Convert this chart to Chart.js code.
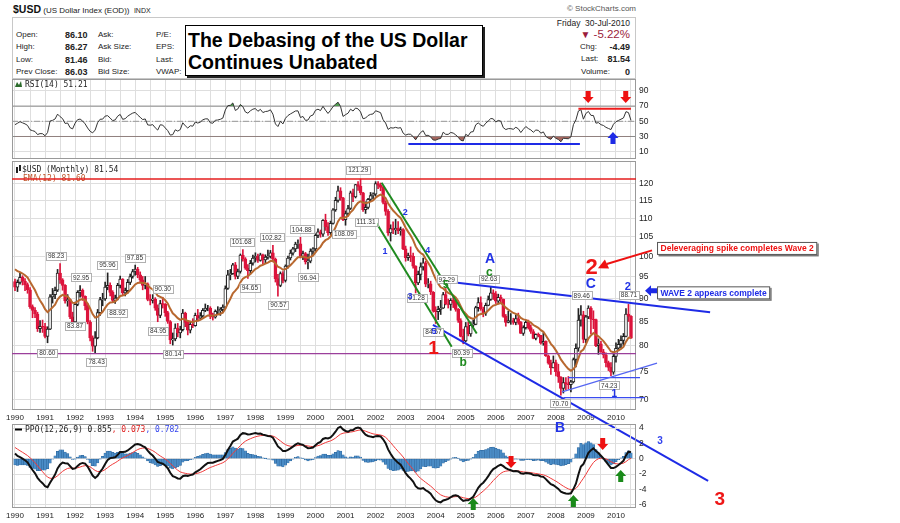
<!DOCTYPE html>
<html><head><meta charset="utf-8">
<script src="https://cdn.jsdelivr.net/npm/chart.js@4.4.1/dist/chart.umd.min.js"></script>
<style>
html,body{margin:0;padding:0;background:#fff;}
#wrap{position:relative;width:900px;height:523px;overflow:hidden;font-family:Arial,"Liberation Sans",sans-serif;color:#222;}
canvas{position:absolute;left:0;top:0;}
.t{position:absolute;white-space:nowrap;}
</style></head><body>
<div id="wrap">
<div class="t" style="left:13px;top:3px;font-size:8px;line-height:12px;"><b style="font-size:10.5px;color:#111">$USD</b> (US Dollar Index (EOD))&nbsp; <span style="font-size:7px">INDX</span></div>
<div class="t" style="right:264px;top:3px;font-size:8px;line-height:12px;color:#555">© StockCharts.com</div>
<div style="position:absolute;left:12px;top:17px;width:624px;height:62px;border:1px solid #c8c8c8;box-sizing:border-box"></div>
<div class="t" style="left:16px;top:29px;font-size:8px;line-height:12px">Open:</div>
<div class="t" style="left:16px;top:41.3px;font-size:8px;line-height:12px">High:</div>
<div class="t" style="left:16px;top:53.6px;font-size:8px;line-height:12px">Low:</div>
<div class="t" style="left:16px;top:65.9px;font-size:8px;line-height:12px">Prev Close:</div>
<div class="t" style="left:65px;top:29px;font-size:9px;line-height:12px;font-weight:bold">86.10</div>
<div class="t" style="left:65px;top:41.3px;font-size:9px;line-height:12px;font-weight:bold">86.27</div>
<div class="t" style="left:65px;top:53.6px;font-size:9px;line-height:12px;font-weight:bold">81.46</div>
<div class="t" style="left:65px;top:65.9px;font-size:9px;line-height:12px;font-weight:bold">86.03</div>
<div class="t" style="left:98px;top:29px;font-size:8px;line-height:12px">Ask:</div>
<div class="t" style="left:98px;top:41.3px;font-size:8px;line-height:12px">Ask Size:</div>
<div class="t" style="left:98px;top:53.6px;font-size:8px;line-height:12px">Bid:</div>
<div class="t" style="left:98px;top:65.9px;font-size:8px;line-height:12px">Bid Size:</div>
<div class="t" style="left:156px;top:29px;font-size:8px;line-height:12px">P/E:</div>
<div class="t" style="left:156px;top:41.3px;font-size:8px;line-height:12px">EPS:</div>
<div class="t" style="left:156px;top:53.6px;font-size:8px;line-height:12px">Last:</div>
<div class="t" style="left:156px;top:65.9px;font-size:8px;line-height:12px">VWAP:</div>
<div style="position:absolute;left:185px;top:25px;width:298px;height:51px;border:1px solid #000;box-shadow:2px 2px 0 #222;background:#fff;box-sizing:border-box"></div>
<div class="t" style="left:188px;top:28.9px;font-size:19.5px;line-height:22px;font-weight:bold;color:#000">The Debasing of the US Dollar</div>
<div class="t" style="left:188px;top:50.5px;font-size:19.5px;line-height:22px;font-weight:bold;color:#000">Continues Unabated</div>
<div class="t" style="right:270px;top:16.7px;font-size:8.5px;line-height:12px">Friday&nbsp; 30-Jul-2010</div>
<div class="t" style="right:270px;top:27.3px;font-size:11.5px;line-height:14px;color:#9b1c3c"><span style="font-size:10px">▼</span> -5.22%</div>
<div class="t" style="left:580px;top:41px;font-size:8px;line-height:12px">Chg:</div>
<div class="t" style="right:270px;top:41px;font-size:9px;line-height:12px;font-weight:bold">-4.49</div>
<div class="t" style="left:581px;top:53.3px;font-size:8px;line-height:12px">Last:</div>
<div class="t" style="right:270px;top:53.3px;font-size:9px;line-height:12px;font-weight:bold">81.54</div>
<div class="t" style="left:581px;top:65.7px;font-size:8px;line-height:12px">Volume:</div>
<div class="t" style="right:270px;top:65.7px;font-size:9px;line-height:12px;font-weight:bold">0</div>
<canvas id="cRsi" width="900" height="523"></canvas>
<canvas id="cPrice" width="900" height="523"></canvas>
<canvas id="cPpo" width="900" height="523"></canvas>
</div>
<script>
// ---------------- DATA (monthly, Jan 1990 .. Jul 2010) ----------------
const yearLabels = ['1990','1991','1992','1993','1994','1995','1996','1997','1998','1999','2000','2001','2002','2003','2004','2005','2006','2007','2008','2009','2010'];
// closes of 1988-1989, used only to warm up the indicators
const priorCloses = [91.9,92.8,90.8,90.6,92.3,96.6,99.7,100.4,99.1,94.7,91.1,92.5,
                     95.5,94.8,98.1,98.6,104.6,102.0,98.5,102.6,99.8,97.8,96.4,93.9];
const closes = [
 92.6,93.7,94.9,94.0,93.2,92.0,88.2,87.4,86.6,83.5,84.0,83.9,
 81.9,83.4,90.4,90.9,91.9,95.9,94.3,93.0,89.5,89.8,86.0,84.9,
 88.7,91.4,91.9,90.5,88.4,84.9,81.6,79.9,81.6,86.9,89.8,89.9,
 92.6,93.0,91.4,89.6,90.1,93.0,94.5,91.3,91.8,93.7,95.1,96.3,
 96.9,95.5,94.3,93.0,93.4,89.8,89.6,89.9,87.9,86.3,88.9,88.7,
 86.9,85.0,81.2,81.4,83.6,82.6,83.3,86.8,84.8,83.2,84.4,84.1,
 86.3,85.7,86.2,87.4,87.9,87.9,86.1,85.9,87.2,87.3,87.6,88.1,
 92.3,95.5,95.8,97.9,95.1,96.3,100.3,99.4,97.1,96.5,98.3,99.6,
 100.1,99.0,100.4,99.1,99.8,100.0,100.9,99.3,94.6,93.0,95.8,94.2,
 97.6,99.6,100.8,101.9,103.1,103.2,100.0,100.7,98.6,98.8,101.3,101.9,
 105.4,106.3,105.7,109.4,107.7,106.1,108.6,112.3,115.0,117.8,115.7,109.6,
 111.3,112.7,117.2,116.0,119.6,119.1,117.2,112.4,113.0,115.3,116.4,116.8,
 119.9,119.4,118.8,114.4,111.9,106.0,107.2,106.8,107.3,106.6,106.9,101.9,
 99.7,100.2,100.0,97.6,93.6,95.6,97.4,98.4,93.3,93.4,91.5,87.3,
 87.1,87.6,87.9,90.9,88.8,88.7,89.6,89.1,87.6,85.2,81.9,81.0,
 83.9,82.4,84.2,84.4,88.0,89.1,87.7,86.8,88.5,89.8,91.3,91.1,
 89.4,90.3,89.9,86.1,84.8,85.2,85.2,84.8,85.6,84.8,82.5,83.7,
 84.8,83.7,82.9,81.5,82.3,82.1,80.5,80.9,78.0,76.6,75.7,76.7,
 75.0,74.0,71.9,73.0,72.7,72.6,73.1,77.3,79.5,85.3,86.4,81.3,
 86.0,87.9,85.5,85.4,80.0,80.4,78.8,78.2,76.7,75.8,74.9,77.9,
 79.5,80.3,81.1,81.9,86.6,86.1,81.54];
const highs = [
 94.5,94.3,95.9,95.3,94.6,93.6,92.5,88.6,88.0,87.0,85.2,85.3,
 84.6,83.9,90.9,92.3,92.6,96.8,98.23,94.6,93.2,90.9,89.9,87.0,
 89.2,91.8,92.95,92.2,90.6,88.9,85.2,82.0,82.9,87.6,90.3,91.2,
 93.8,95.96,93.6,91.8,90.8,93.5,95.2,94.6,92.4,94.4,95.7,96.8,
 97.85,97.3,96.2,95.1,95.1,93.6,90.9,90.9,90.2,88.6,89.6,90.30,
 88.9,87.2,85.2,82.6,84.5,84.6,84.0,87.6,87.0,85.2,85.0,85.6,
 86.8,87.6,86.9,87.8,88.8,88.5,88.2,86.8,87.5,88.2,88.0,88.6,
 92.9,96.6,96.8,98.3,98.5,96.9,100.6,101.68,99.7,98.0,99.0,100.3,
 100.9,100.6,100.8,100.6,100.4,101.6,101.5,102.82,99.6,95.6,96.2,96.3,
 97.9,100.1,101.6,102.3,103.6,104.2,104.88,101.3,101.0,100.6,101.9,102.2,
 105.8,107.1,106.8,109.6,111.1,108.8,109.2,112.7,115.9,119.2,118.7,115.9,
 112.0,113.6,117.7,118.3,119.7,120.5,121.29,117.3,114.6,115.6,117.3,117.2,
 120.5,120.5,120.1,119.1,114.9,112.4,108.2,109.0,109.7,109.1,107.6,107.2,
 102.6,100.8,102.4,100.8,97.7,96.4,98.4,99.6,98.8,94.6,94.0,91.6,
 88.2,88.3,89.6,91.4,92.29,89.9,90.0,90.5,89.6,87.8,85.6,83.4,
 84.8,84.9,84.9,85.3,88.3,90.2,90.4,88.1,89.0,90.6,92.63,92.0,
 91.6,91.0,90.8,89.9,86.5,87.2,86.7,85.7,86.4,86.8,85.0,84.1,
 85.2,85.3,84.3,83.3,82.4,82.6,82.1,82.6,81.0,78.2,77.2,78.0,
 77.2,76.4,74.1,73.9,73.9,74.1,73.4,77.6,80.4,87.8,88.46,87.2,
 86.3,88.4,88.2,87.3,85.5,81.4,80.9,79.3,78.6,77.0,76.7,78.3,
 80.6,81.3,82.0,82.5,87.8,88.71,86.27];
const lows = [
 91.8,91.6,93.3,93.1,91.8,91.2,87.8,85.8,85.8,82.9,82.7,82.7,
 81.6,80.60,83.3,89.0,90.0,91.6,93.5,91.9,89.0,88.3,85.6,84.4,
 83.87,88.4,90.3,89.6,87.5,84.5,81.0,78.9,78.43,81.4,86.3,88.4,
 89.6,92.0,90.6,89.2,88.92,89.7,92.4,90.9,90.6,91.2,93.2,94.7,
 95.4,94.8,93.6,92.0,92.2,89.5,88.6,89.0,87.4,84.95,85.8,87.9,
 86.1,84.6,80.4,80.14,81.0,81.8,81.6,83.0,83.9,82.2,82.6,83.7,
 84.0,85.1,85.5,85.9,87.1,87.3,85.6,85.3,85.7,86.5,86.3,86.9,
 87.8,92.1,94.3,95.6,94.5,94.6,95.9,98.8,96.8,94.65,95.7,97.8,
 98.6,98.5,98.8,98.1,98.4,99.3,99.6,98.6,93.8,90.57,92.7,93.6,
 93.8,97.1,99.1,100.3,101.2,102.0,99.6,99.2,98.1,96.94,98.4,100.5,
 101.1,104.8,104.9,105.1,106.7,105.4,105.6,108.4,111.9,114.5,115.0,109.3,
 108.09,110.6,112.4,114.6,115.7,117.9,116.6,111.9,111.31,112.6,114.8,115.4,
 116.2,118.4,117.8,114.0,110.8,105.4,103.9,105.8,105.6,105.8,105.4,101.7,
 98.8,99.0,98.7,97.1,91.28,93.2,94.3,96.6,92.7,92.4,90.9,87.0,
 84.57,85.4,86.5,87.8,88.6,87.9,87.4,88.0,87.2,84.8,81.8,80.39,
 80.8,82.0,81.9,83.8,84.3,87.2,87.4,86.0,86.3,88.4,89.6,89.8,
 88.9,88.8,89.1,85.9,84.0,84.7,84.4,84.4,84.3,84.4,82.5,82.1,
 83.4,83.4,82.5,81.4,81.2,81.8,80.3,80.1,77.9,76.4,74.5,75.7,
 74.2,73.0,70.70,71.1,71.7,71.8,71.3,72.9,75.9,78.9,84.0,80.6,
 80.6,85.6,82.4,83.5,79.8,78.3,78.7,77.6,75.9,75.2,74.23,74.5,
 76.8,79.0,79.6,80.0,81.8,85.0,81.46];
const firstOpen = 93.9;
const opens = closes.map((c, i) => i === 0 ? firstOpen : closes[i - 1]);
const priceTicks = [70,75,80,85,90,95,100,105,110,115,120];
const rsiTicks = [10,30,50,70,90];
const ppoTicks = [-6,-4,-2,0,2,4];

// annotations in data coordinates: [text, month index, value]
const priceLabels = [
 ['98.23',16.4,100.1],['92.95',26.4,94.9],['83.87',24.0,84.05],['80.60',12.9,78.6],['78.43',32.6,76.9],
 ['95.96',36.9,97.9],['88.92',40.9,86.8],['97.85',47.9,99.7],['90.30',59.0,92.2],['84.95',57.2,83.1],
 ['80.14',63.2,78.4],['101.68',90.5,103.7],['94.65',93.8,92.5],['102.82',102.5,104.9],['90.57',105.2,88.6],
 ['104.88',114.5,107.0],['96.94',117.1,94.9],['108.09',131.4,105.7],['121.29',137.1,124.1],['111.31',140.2,109.0],
 ['91.28',160.4,90.1],['84.57',167.1,82.9],['92.29',172.4,94.4],['80.39',178.4,78.6],['92.63',189.3,94.6],
 ['89.46',226.3,90.7],['74.23',237.3,72.5],['70.70',217.7,69.3],['88.71',245.2,90.8]];
const waveLabels = [
 ['1',147.8,101.2,'#2233e6',9],['2',155.8,111.5,'#2233e6',9],['3',157.7,90.4,'#2233e6',9],['4',164.8,101.4,'#2233e6',9],
 ['5',167.3,82.9,'#2233e6',9],['5',172.0,93.1,'#1f8a1f',10],['A',189.7,99.3,'#2233e6',14],['c',189.4,95.9,'#1f8a1f',12],
 ['b',179.0,76.6,'#1f8a1f',12],['1',167.1,79.5,'#ee1616',19],['C',230.0,93.3,'#2233e6',14],['2',230.3,97.1,'#ee1616',22],
 ['2',244.7,92.6,'#2233e6',11],['1',239.3,70.9,'#2233e6',10]];
const priceLines = [ // m1, v1, m2, v2, color, width
 [146.4,120.2,184.4,82.5,'#1f8a1f',2],[144.4,108.6,174.4,79.8,'#1f8a1f',2],
 [174.1,93.8,277.6,87.0,'#1e2be6',2],[166.9,84.3,276.8,57.1,'#1e2be6',2],
 [221.0,73.9,249.6,73.9,'#3a4cf0',1.2],[219.0,70.3,251.6,70.3,'#3a4cf0',1.2],
 [218.5,71.3,256.4,76.6,'#5566f2',1.2]];
const priceLevels = [[121.29,'#e51c1c',1.6],[78.43,'#9b3f9b',1.3]];

// ---------------- indicators ----------------
const allCloses = priorCloses.concat(closes);
const W0 = priorCloses.length;
function ema(arr, n){const k=2/(n+1);const out=[];let e=arr[0];for(let i=0;i<arr.length;i++){e=i===0?arr[0]:arr[i]*k+e*(1-k);out.push(e);}return out;}
function rsiCalc(arr, n){const out=new Array(arr.length).fill(null);let g=0,l=0;
 for(let i=1;i<=n;i++){const d=arr[i]-arr[i-1];if(d>0)g+=d;else l-=d;}g/=n;l/=n;out[n]=100-100/(1+g/l);
 for(let i=n+1;i<arr.length;i++){const d=arr[i]-arr[i-1];g=(g*(n-1)+Math.max(d,0))/n;l=(l*(n-1)+Math.max(-d,0))/n;out[i]=l===0?100:100-100/(1+g/l);}return out;}
const ema12All = ema(allCloses,12), ema26All = ema(allCloses,26);
const ppoAll = ema12All.map((v,i)=> (v-ema26All[i])/ema26All[i]*100);
const sigAll = ema(ppoAll,9);
const rsiAll = rsiCalc(allCloses,14);
const ema12 = ema12All.slice(W0), ppo = ppoAll.slice(W0), sig = sigAll.slice(W0), rsi = rsiAll.slice(W0);
const hist = ppo.map((v,i)=>v-sig[i]);

// ---------------- layout helpers ----------------
const X_MIN = -1.198, X_MAX = 248.0;
const GRID = '#dedede';
function xAxis(showLabels, h){
 return {type:'linear', min:X_MIN, max:X_MAX, offset:false,
  afterBuildTicks:s=>{const t=[];for(let v=0;v<closes.length;v+=6)t.push({value:v});s.ticks=t;},
  afterFit:s=>{s.height=h;},
  grid:{color:GRID, drawTicks:false, offset:false}, border:{display:false},
  ticks:{display:showLabels, autoSkip:false, maxRotation:0, minRotation:0, padding:3,
   font:{family:'Arial', size:8}, color:'#222',
   callback:v=> (v%12===0 ? yearLabels[v/12] : '')}};
}
function yAxis(type,min,max,ticks){
 return {type:type, position:'right', min:min, max:max, beginAtZero:false,
  afterBuildTicks:s=>{s.ticks=ticks.map(v=>({value:v}));},
  afterFit:s=>{s.width=30;},
  grid:{color:GRID, drawTicks:false}, border:{display:false},
  ticks:{padding:3, font:{family:'Arial', size:8.5}, color:'#222', callback:v=>String(v)}};
}
function baseOpts(top,bottom){
 return {responsive:false, animation:false, devicePixelRatio:1, events:[],
  layout:{padding:{left:12,right:234,top:top,bottom:bottom}},
  plugins:{legend:{display:false}, tooltip:{enabled:false}}};
}
function frame(ch){const a=ch.chartArea,c=ch.ctx;c.save();c.strokeStyle='#9a9a9a';c.lineWidth=1;c.strokeRect(a.left+0.5,a.top+0.5,a.right-a.left-1,a.bottom-a.top-1);c.restore();}
function seg(c,x1,y1,x2,y2,col,w,dash){c.beginPath();c.setLineDash(dash||[]);c.moveTo(x1,y1);c.lineTo(x2,y2);c.strokeStyle=col;c.lineWidth=w;c.stroke();c.setLineDash([]);}
function vArrow(c,x,tipY,dir,col){const W=11,L=12,HL=6,SW=5;c.beginPath();c.moveTo(x,tipY);c.lineTo(x-W/2,tipY-dir*HL);c.lineTo(x-SW/2,tipY-dir*HL);c.lineTo(x-SW/2,tipY-dir*L);c.lineTo(x+SW/2,tipY-dir*L);c.lineTo(x+SW/2,tipY-dir*HL);c.lineTo(x+W/2,tipY-dir*HL);c.closePath();c.fillStyle=col;c.fill();}
function hArrowLeft(c,tipX,y,col){const W=11,L=12,HL=6,SW=5;c.beginPath();c.moveTo(tipX,y);c.lineTo(tipX+HL,y-W/2);c.lineTo(tipX+HL,y-SW/2);c.lineTo(tipX+L,y-SW/2);c.lineTo(tipX+L,y+SW/2);c.lineTo(tipX+HL,y+SW/2);c.lineTo(tipX+HL,y+W/2);c.closePath();c.fillStyle=col;c.fill();}
function txt(c,s,x,y,col,font,align){c.font=font;c.fillStyle=col;c.textAlign=align||'center';c.textBaseline='middle';c.fillText(s,x,y);}
function callout(c,x,yc,s,col){c.font='bold 8.5px Arial';const w=c.measureText(s).width+7,h=13;c.fillStyle='#777';c.fillRect(x+1.5,yc-h/2+1.5,w,h);c.fillStyle='#fff';c.fillRect(x,yc-h/2,w,h);c.strokeStyle='#555';c.lineWidth=1;c.strokeRect(x+0.5,yc-h/2+0.5,w-1,h-1);txt(c,s,x+3.5,yc+0.5,col,'bold 8.5px Arial','left');}
const MONO = '8px "DejaVu Sans Mono", monospace';

// ---------------- RSI panel ----------------
const rsiPts = rsi.map((v,i)=>({x:i,y:v}));
const rsiPlugin = {id:'rsiMarks',
 beforeDatasetsDraw(ch){const c=ch.ctx,a=ch.chartArea,ys=ch.scales.y;c.save();
  seg(c,a.left,ys.getPixelForValue(70),a.right,ys.getPixelForValue(70),'#8a8a8a',1);
  seg(c,a.left,ys.getPixelForValue(30),a.right,ys.getPixelForValue(30),'#8a8a8a',1);
  seg(c,a.left,ys.getPixelForValue(50),a.right,ys.getPixelForValue(50),'#999',1,[6,2,1,2]);c.restore();},
 afterDraw(ch){const c=ch.ctx,a=ch.chartArea,xs=ch.scales.x,ys=ch.scales.y;c.save();
  frame(ch);
  seg(c,xs.getPixelForValue(157.1),ys.getPixelForValue(20.1),xs.getPixelForValue(225.6),ys.getPixelForValue(20.1),'#1e2be6',2);
  seg(c,xs.getPixelForValue(225.0),ys.getPixelForValue(66.6),xs.getPixelForValue(246.0),ys.getPixelForValue(66.6),'#ee1c1c',2);
  vArrow(c,xs.getPixelForValue(228.9),ys.getPixelForValue(74.1),1,'#ee1111');
  vArrow(c,xs.getPixelForValue(243.9),ys.getPixelForValue(74.1),1,'#ee1111');
  vArrow(c,xs.getPixelForValue(238.8),ys.getPixelForValue(35.9),-1,'#1e2be6');
  c.fillStyle='#2a6a2a';c.beginPath();c.moveTo(a.left+3,a.top+8);c.lineTo(a.left+5,a.top+3);c.lineTo(a.left+7,a.top+6);c.lineTo(a.left+9,a.top+2);c.lineTo(a.left+10,a.top+8);c.closePath();c.fill();
  txt(c,'RSI(14) 51.21',a.left+13,a.top+5.5,'#222',MONO,'left');
  c.restore();}};
new Chart(document.getElementById('cRsi'),{type:'line',
 data:{datasets:[
  {data:rsiPts,borderColor:'#333',borderWidth:1,pointRadius:0,fill:{target:{value:30},above:'rgba(0,0,0,0)',below:'#a5665e'}},
  {data:rsiPts,borderColor:'rgba(0,0,0,0)',borderWidth:0,pointRadius:0,fill:{target:{value:70},above:'#4f9a4f',below:'rgba(0,0,0,0)'}}]},
 options:Object.assign(baseOpts(79,364),{scales:{x:xAxis(false,0),y:yAxis('linear',0.39,105.66,rsiTicks)}}),
 plugins:[rsiPlugin]});

// ---------------- Price panel ----------------
const wickPts = closes.map((c,i)=>({x:i,y:[lows[i],highs[i]]}));
const bodyPts = closes.map((c,i)=>({x:i,y:[opens[i],c]}));
const upDown = closes.map((c,i)=>c>=opens[i]);
const emaPts = ema12.map((v,i)=>({x:i,y:v}));
const pricePlugin = {id:'priceMarks',
 afterDraw(ch){const c=ch.ctx,a=ch.chartArea,xs=ch.scales.x,ys=ch.scales.y;
  const X=m=>xs.getPixelForValue(m),Y=v=>ys.getPixelForValue(v);
  c.save();frame(ch);
  // legend
  c.fillStyle='#222';c.fillRect(a.left+4,a.top+6,2,6);c.fillRect(a.left+7,a.top+4,2,6);
  txt(c,'$USD (Monthly) 81.54',a.left+10,a.top+9,'#222',MONO,'left');
  txt(c,'EMA(12) 81.60',a.left+11,a.top+18,'#c0562c',MONO,'left');
  priceLevels.forEach(l=>seg(c,a.left,Y(l[0]),a.right,Y(l[0]),l[1],l[2]));
  priceLines.forEach(l=>seg(c,X(l[0]),Y(l[1]),X(l[2]),Y(l[3]),l[4],l[5]));
  // value boxes
  c.font='6.5px Arial';
  priceLabels.forEach(p=>{const w=c.measureText(p[0]).width+4,h=8,x=X(p[1]),y=Y(p[2]);
   c.fillStyle='#fff';c.fillRect(x-w/2,y-h/2,w,h);c.strokeStyle='#b0b0b0';c.lineWidth=1;c.strokeRect(Math.round(x-w/2)+0.5,Math.round(y-h/2)+0.5,Math.round(w),h);
   txt(c,p[0],x,y+0.5,'#333','6.5px Arial');});
  waveLabels.forEach(w=>txt(c,w[0],X(w[1]),Y(w[2]),w[3],'bold '+w[4]+'px Arial'));
  // callouts
  seg(c,X(254.4),Y(101.5),X(236.3),Y(98.1),'#ee1111',2);
  (function(){const tx=X(232.8),ty=Y(97.1),bx=X(236.3),by=Y(98.1);const ang=Math.atan2(ty-by,tx-bx);
   c.beginPath();c.moveTo(tx,ty);c.lineTo(tx-10*Math.cos(ang)+5*Math.sin(ang),ty-10*Math.sin(ang)-5*Math.cos(ang));
   c.lineTo(tx-10*Math.cos(ang)-5*Math.sin(ang),ty-10*Math.sin(ang)+5*Math.cos(ang));c.closePath();c.fillStyle='#ee1111';c.fill();})();
  callout(c,X(256.4),Y(102.0),'Deleveraging spike completes Wave 2','#ee1111');
  hArrowLeft(c,X(251.6),Y(91.8),'#1e2be6');
  callout(c,X(256.4),Y(91.3),'WAVE 2 appears complete','#1e2be6');
  c.restore();}};
new Chart(document.getElementById('cPrice'),{type:'bar',
 data:{datasets:[
  {type:'line',data:emaPts,borderColor:'#b8682f',borderWidth:2,pointRadius:0,order:0},
  {type:'bar',data:bodyPts,grouped:false,barThickness:3,borderSkipped:false,borderWidth:1,order:1,
   backgroundColor:upDown.map(u=>u?'#ffffff':'#dc143c'),borderColor:upDown.map(u=>u?'#222':'#dc143c')},
  {type:'bar',data:wickPts,grouped:false,barThickness:1,order:2,
   backgroundColor:upDown.map(u=>u?'#222':'#dc143c')}]},
 options:Object.assign(baseOpts(161,99),{scales:{x:xAxis(true,14),y:yAxis('logarithmic',68.15,126.88,priceTicks)}}),
 plugins:[pricePlugin]});

// ---------------- PPO panel ----------------
const ppoPts = ppo.map((v,i)=>({x:i,y:v}));
const sigPts = sig.map((v,i)=>({x:i,y:v}));
const histPts = hist.map((v,i)=>({x:i,y:v}));
const ppoPlugin = {id:'ppoMarks',
 afterDraw(ch){const c=ch.ctx,a=ch.chartArea,xs=ch.scales.x,ys=ch.scales.y;
  const X=m=>xs.getPixelForValue(m),Y=v=>ys.getPixelForValue(v);
  c.save();frame(ch);
  seg(c,a.left+3,a.top+5.5,a.left+10,a.top+5.5,'#000',2);
  let x=a.left+13;c.font=MONO;
  [['PPO(12,26,9) 0.855','#222'],[', 0.073','#e02020'],[', 0.782','#3344ee']].forEach(p=>{txt(c,p[0],x,a.top+5.5,p[1],MONO,'left');x+=c.measureText(p[0]).width;});
  vArrow(c,X(198.1),Y(-1.22),1,'#ee1111');vArrow(c,X(234.7),Y(1.14),1,'#ee1111');
  vArrow(c,X(183.0),Y(-5.14),-1,'#1a8a1a');vArrow(c,X(223.0),Y(-4.75),-1,'#1a8a1a');vArrow(c,X(241.9),Y(-1.48),-1,'#1a8a1a');
  txt(c,'B',X(217.7),Y(4.05),'#2233e6','bold 14px Arial');
  txt(c,'3',X(257.6),Y(2.22),'#3344ee','bold 10px Arial');
  txt(c,'3',X(281.5),Y(-5.4),'#ee1616','bold 19px Arial');
  c.restore();}};
new Chart(document.getElementById('cPpo'),{type:'bar',
 data:{datasets:[
  {type:'line',data:ppoPts,borderColor:'#111',borderWidth:2,pointRadius:0,order:0},
  {type:'line',data:sigPts,borderColor:'#f03a3a',borderWidth:1,pointRadius:0,order:1},
  {type:'bar',data:histPts,grouped:false,barThickness:2.5,backgroundColor:'#4a8cc6',borderColor:'#2a6298',borderWidth:0.5,borderSkipped:false,order:2}]},
 options:Object.assign(baseOpts(424,0),{scales:{x:xAxis(true,15),y:yAxis('linear',-6.444,4.536,ppoTicks)}}),
 plugins:[ppoPlugin]});
</script>
</body></html>
